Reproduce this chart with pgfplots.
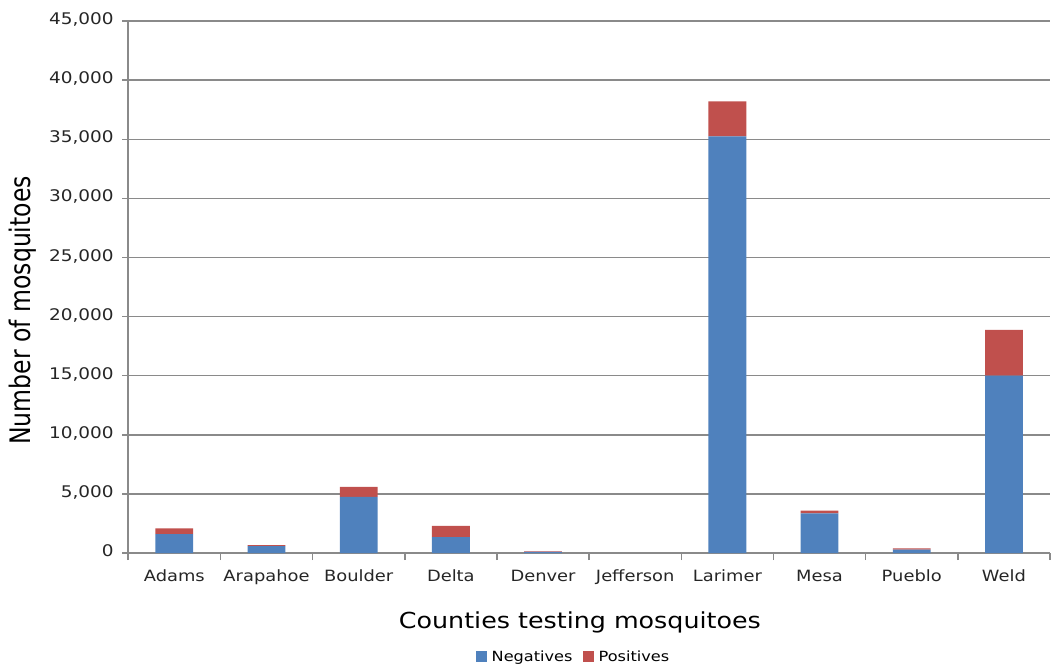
\documentclass[border=0pt]{standalone}
\usepackage{fontspec}
\setmainfont{DejaVu Sans}[FakeStretch=1.15]
\newfontfamily\plainfont{DejaVu Sans}
\usepackage{pgfplots}
\usepackage{pgfplotstable}
\pgfplotsset{compat=1.18}

\definecolor{negblue}{HTML}{4F81BD}
\definecolor{posred}{HTML}{C0504D}
\definecolor{gridgray}{HTML}{8A8A8A}

% county counts: negatives and positives
\pgfplotstableread{
x neg pos
0 1600 480
1 580 100
2 4750 850
3 1350 950
4 100 50
5 0 0
6 35250 2950
7 3350 230
8 300 100
9 15000 3880
}\mosq

\begin{document}
\begin{tikzpicture}
\path[use as bounding box] (-128pt,-114pt) rectangle (922pt,552pt);
\begin{axis}[
  scale only axis,
  width=920pt, height=531pt,
  ybar stacked, bar width=0.41,
  xmin=-0.5, xmax=9.5, ymin=0, ymax=45000,
  xtick={0,...,9},
  xticklabels={Adams,Arapahoe,Boulder,Delta,Denver,Jefferson,Larimer,Mesa,Pueblo,Weld},
  typeset ticklabels with strut,
  major x tick style={draw=none},
  minor xtick={-0.5,0.5,...,9.5},
  ytick={0,5000,...,45000},
  scaled y ticks=false,
  axis x line*=bottom, axis y line*=left,
  axis line style={gridgray, line width=1.5pt, -},
  ymajorgrids,
  grid style={gridgray, line width=1.5pt},
  tick align=outside,
  major tick length=6pt, minor tick length=7pt,
  every tick/.style={gridgray, line width=1.5pt},
  minor x tick style={gridgray, line width=1.5pt},
  yticklabel style={font=\fontsize{16}{18}\selectfont, text=black!85, xshift=-5pt},
  xticklabel style={font=\fontsize{15.5}{18}\selectfont, text=black!85, yshift=-6pt},
  /pgf/number format/.cd, 1000 sep={,}, assume math mode=true, /pgfplots/.cd,
  xlabel={Counties testing mosquitoes},
  xlabel style={font=\fontsize{22}{26}\selectfont, at={(axis description cs:0.49,0)}, anchor=center, yshift=-69pt},
  ylabel={\plainfont\fontsize{23.5}{27}\selectfont\scalebox{1}[1.2]{Number of mosquitoes}},
  ylabel style={at={(axis description cs:-0.114,0.456)}, anchor=center},
  legend style={at={(axis description cs:0.483,0)}, anchor=center, yshift=-104pt,
    draw=none, legend columns=2, font=\fontsize{14}{16}\selectfont,
    /tikz/every even column/.append style={column sep=8pt}},
  legend image code/.code={\fill[#1] (0pt,-5pt) rectangle (11pt,6pt); \path (14pt,0pt);},
]
\addplot[fill=negblue, draw=none] table[x=x, y=neg] {\mosq};
\addplot[fill=posred, draw=none] table[x=x, y=pos] {\mosq};
\legend{Negatives, Positives}
\end{axis}
\end{tikzpicture}
\end{document}
